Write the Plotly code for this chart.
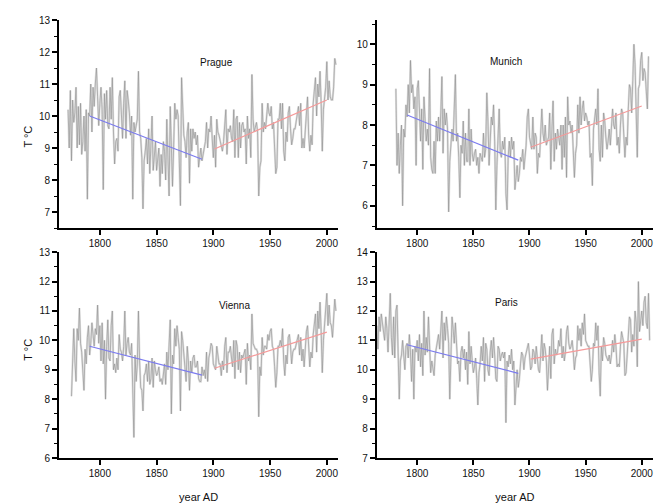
import plotly.graph_objects as go

# ---------------- data ----------------
prague_start = 1772
prague_temp = [
    10.2, 9.0, 10.8, 8.6, 10.5, 9.8, 10.1, 10.9,
    9.0, 10.3, 9.1, 10.4, 8.8, 9.2, 10.0, 8.9, 10.2, 7.4,
    10.1, 10.0, 11.0, 9.5, 10.9, 10.3, 11.0, 11.5, 10.6, 9.7,
    10.4, 10.9, 10.2, 7.7, 10.7, 9.9, 10.8, 9.7, 9.6, 10.9,
    9.9, 11.2, 9.5, 8.5, 9.2, 9.3, 8.9, 10.6, 10.8, 10.2,
    9.3, 10.4, 11.1, 9.3, 10.8, 10.5, 10.1, 9.4, 10.0, 7.4,
    9.8, 9.5, 9.7, 9.9, 11.4, 9.5, 9.3, 8.7, 7.1, 8.6,
    8.9, 9.3, 8.5, 9.6, 8.2, 9.1, 10.0, 8.3, 8.9, 9.2,
    8.3, 8.6, 9.0, 7.8, 8.8, 8.2, 9.2, 8.9, 8.0, 9.9,
    8.4, 7.5, 10.3, 9.2, 7.8, 9.0, 10.4, 9.9, 10.2, 10.0,
    8.3, 7.2, 11.2, 10.3, 9.4, 9.2, 8.7, 9.5, 9.8, 7.9,
    9.6, 8.9, 9.6, 9.3, 9.5, 9.1, 9.4, 8.4, 8.8, 9.0,
    8.6, 8.9, 9.0, 9.2, 9.8, 9.0, 9.6, 9.5, 10.0, 9.3,
    8.7, 9.4, 8.4, 9.9, 9.5, 9.4, 9.2, 9.0, 8.9, 9.2,
    9.8, 10.2, 8.8, 9.6, 9.5, 9.7, 9.3, 9.2, 10.2, 8.7,
    9.9, 10.0, 8.7, 9.8, 9.0, 9.7, 9.8, 9.5, 9.6, 8.5,
    10.0, 9.3, 9.6, 8.7, 11.3, 9.9, 9.5, 9.7, 9.8, 9.5,
    7.5, 8.4, 8.6, 10.4, 9.5, 9.8, 9.6, 10.0, 10.4, 10.1,
    10.0, 10.3, 9.6, 9.8, 8.9, 8.2, 8.4, 9.9, 9.9, 10.4,
    9.6, 10.4, 8.9, 8.6, 9.5, 9.2, 10.1, 10.3, 9.6, 9.1,
    9.3, 9.6, 9.6, 9.9, 10.0, 10.3, 9.7, 10.4, 9.0, 9.3,
    9.0, 9.6, 10.3, 10.6, 9.4, 8.9, 9.4, 9.1, 10.4, 11.0,
    11.2, 10.0, 11.0, 10.6, 11.4, 10.4, 8.9, 10.2, 10.5, 10.9,
    11.7, 10.5, 11.1, 10.6, 10.5, 10.5, 10.9, 11.8, 11.6,
]

munich_start = 1781
munich_temp = [
    8.9, 7.0, 7.8, 6.8, 7.5, 8.0, 6.0, 7.9, 7.7,
    8.5, 8.2, 9.0, 8.3, 9.6, 8.8, 9.0, 8.4, 8.7, 7.0,
    8.9, 9.1, 8.2, 7.6, 8.4, 6.9, 8.7, 8.0, 7.6, 7.9,
    7.5, 9.4, 7.2, 6.9, 6.8, 7.6, 6.8, 8.1, 7.6, 8.2,
    7.6, 8.3, 9.2, 7.3, 8.4, 8.0, 8.3, 7.9, 5.85, 7.1,
    7.6, 7.9, 7.6, 8.3, 9.25, 7.6, 7.8, 7.2, 6.2, 7.5,
    7.3, 8.1, 7.0, 7.8, 7.1, 7.1, 8.4, 7.0, 7.9, 7.3,
    7.1, 7.3, 7.4, 7.0, 7.2, 6.8, 7.3, 7.2, 7.1, 7.8,
    7.2, 7.4, 8.8, 8.1, 7.0, 7.6, 8.2, 8.0, 8.5, 7.6,
    5.9, 7.0, 7.8, 8.4, 7.3, 7.2, 7.6, 7.4, 7.7, 6.3,
    5.9, 7.2, 7.6, 7.2, 7.7, 7.4, 7.6, 6.4, 6.7, 7.0,
    6.6, 6.8, 7.2, 7.1, 7.4, 6.9, 7.2, 7.5, 8.2, 8.4,
    7.7, 7.5, 7.4, 8.2, 7.4, 7.8, 7.7, 6.8, 7.3, 7.2,
    8.0, 8.4, 7.8, 7.6, 8.0, 7.5, 7.6, 7.7, 8.3, 6.9,
    7.9, 8.6, 7.1, 7.8, 7.4, 7.9, 7.7, 7.5, 8.0, 6.9,
    8.0, 7.2, 8.2, 6.7, 8.7, 8.0, 8.1, 7.8, 8.0, 7.5,
    6.7, 7.3, 7.5, 8.5, 7.8, 8.7, 8.0, 8.4, 8.6, 8.1,
    8.3, 8.2, 8.0, 8.1, 7.2, 7.3, 6.5, 7.9, 8.2, 8.4,
    8.0, 8.9, 7.4, 7.1, 8.0, 7.2, 8.3, 8.1, 7.7, 7.4,
    7.6, 7.9, 7.5, 8.0, 8.4, 8.0, 7.9, 8.3, 7.5, 7.7,
    7.3, 8.0, 8.4, 8.3, 7.6, 7.2, 7.7, 7.5, 8.4, 9.0,
    8.9, 8.3, 9.1, 10.0, 9.5, 8.6, 7.2, 8.9, 9.0, 9.6,
    9.8, 9.1, 9.4, 9.3, 8.8, 8.4, 9.7,
]

vienna_start = 1775
vienna_temp = [
    8.1, 9.5, 10.4, 9.3, 8.6,
    10.4, 10.0, 11.1, 9.9, 9.6, 8.9, 8.3, 9.7, 9.2, 10.1,
    10.5, 9.5, 9.9, 10.6, 10.2, 9.8, 10.4, 10.2, 11.2, 9.9,
    10.5, 9.3, 10.6, 9.2, 10.0, 8.0, 9.8, 10.7, 9.4, 9.3,
    10.5, 11.0, 9.0, 9.2, 8.9, 9.4, 9.0, 10.2, 9.7, 9.6,
    9.3, 9.8, 11.0, 9.5, 9.9, 10.1, 9.6, 9.5, 9.9, 7.6,
    6.7, 9.5, 8.6, 9.2, 11.0, 9.3, 8.4, 8.3, 7.6, 8.8,
    8.9, 9.2, 8.6, 9.3, 8.5, 8.7, 9.4, 8.4, 9.3, 9.0,
    8.8, 8.9, 9.1, 8.6, 8.7, 8.5, 9.0, 9.2, 8.5, 9.6,
    9.0, 9.8, 10.7, 7.5, 9.5, 9.2, 10.4, 9.8, 10.5, 10.1,
    9.7, 7.6, 10.3, 10.0, 9.4, 9.1, 8.6, 9.8, 9.3, 8.3,
    9.3, 8.9, 9.4, 9.5, 9.1, 9.1, 9.3, 8.7, 8.6, 8.6,
    9.1, 8.8, 9.0, 8.7, 9.6, 8.6, 9.4, 9.6, 9.9, 9.8,
    9.2, 9.1, 9.0, 9.8, 9.4, 9.2, 9.2, 8.8, 9.3, 9.0,
    9.8, 10.1, 8.9, 9.6, 9.6, 9.8, 9.4, 9.1, 10.0, 8.7,
    10.0, 9.8, 9.0, 9.6, 8.9, 9.5, 9.4, 9.6, 9.7, 8.5,
    9.9, 9.3, 9.5, 9.0, 10.9, 9.9, 9.8, 9.7, 9.7, 9.6,
    7.4, 9.1, 8.8, 10.1, 9.5, 9.8, 9.8, 9.7, 10.2, 10.0,
    10.3, 10.4, 9.8, 9.7, 9.1, 8.4, 8.9, 9.8, 9.8, 10.0,
    9.8, 10.4, 9.3, 8.8, 9.5, 9.2, 10.1, 10.2, 9.8, 9.2,
    9.6, 9.7, 9.7, 9.9, 10.1, 10.2, 9.5, 10.1, 9.3, 9.7,
    9.1, 9.7, 10.3, 10.5, 9.5, 9.1, 9.6, 9.4, 10.2, 10.5,
    10.9, 9.6, 11.0, 10.4, 11.3, 10.3, 8.9, 10.0, 10.6, 10.9,
    11.6, 10.5, 11.2, 10.6, 10.5, 10.1, 10.8, 11.4, 11.0,
]

paris_start = 1764
paris_temp = [
    11.5, 10.7, 11.8, 11.3, 11.9, 11.6,
    11.2, 11.0, 11.8, 11.4, 10.6, 12.0, 12.6, 11.1, 10.5, 11.8,
    10.4, 12.0, 12.2, 10.6, 9.0, 10.3, 10.5, 11.0, 10.3, 10.0,
    10.8, 10.9, 10.4, 11.2, 10.6, 9.6, 10.7, 9.0, 10.8, 10.6,
    11.0, 10.3, 11.2, 10.1, 10.9, 9.8, 12.0, 10.5, 11.1, 10.6,
    11.8, 10.6, 9.9, 10.3, 10.0, 9.8, 10.5, 10.8, 11.0, 11.2,
    10.7, 11.5, 12.0, 10.4, 11.6, 11.0, 11.8, 11.4, 10.9, 9.0,
    11.0, 11.8, 11.4, 10.9, 11.6, 10.7, 10.2, 10.3, 9.6, 10.6,
    10.8, 10.4, 10.7, 10.0, 10.6, 9.5, 11.3, 10.2, 10.8, 10.3,
    9.9, 10.1, 10.4, 9.7, 8.8, 9.9, 10.2, 10.8, 10.3, 11.1,
    9.6, 10.9, 10.7, 10.0, 9.8, 10.6, 11.0, 10.4, 11.1, 10.5,
    9.7, 9.6, 10.8, 10.7, 10.3, 10.5, 10.6, 10.4, 10.6, 8.2,
    10.3, 10.1, 10.5, 10.2, 10.7, 10.0, 10.3, 8.8, 9.6, 10.0,
    9.4, 9.7, 10.2, 10.6, 10.5, 10.0, 10.4, 10.6, 10.8, 10.9,
    10.5, 10.0, 10.1, 10.7, 10.6, 10.2, 10.8, 10.4, 10.0, 9.9,
    10.5, 11.2, 10.3, 10.9, 10.7, 10.3, 9.3, 10.4, 10.8, 9.7,
    11.2, 11.4, 10.2, 10.7, 10.5, 10.6, 11.0, 10.8, 11.4, 10.4,
    10.8, 10.3, 10.6, 11.3, 11.5, 10.9, 10.7, 10.8, 11.0, 10.6,
    10.0, 10.4, 10.5, 11.5, 11.0, 11.4, 10.8, 11.6, 11.2, 11.9,
    11.0, 10.9, 10.8, 10.8, 10.2, 9.6, 10.0, 10.9, 10.8, 11.6,
    11.0, 11.5, 9.9, 9.1, 10.8, 10.3, 11.1, 10.9, 10.5, 10.4,
    10.3, 10.5, 10.2, 10.5, 11.0, 10.6, 11.2, 10.8, 10.1, 10.2,
    10.1, 10.8, 11.3, 11.1, 10.9, 9.8, 9.9, 10.5, 11.4, 11.8,
    11.7, 10.6, 11.2, 10.8, 12.0, 11.6, 10.1, 13.0, 11.3, 11.8,
    12.0, 11.5, 12.3, 12.5, 11.6, 11.4, 12.6, 11.0,
]

# linear trends (start/end values) for 1791-1890 (blue) and 1901-2000 (red)
early_years = [1791, 1890]
late_years = [1901, 2000]
prague_early = [10.0, 8.65]
prague_late = [8.97, 10.5]
munich_early = [8.25, 7.13]
munich_late = [7.45, 8.47]
vienna_early = [9.8, 8.82]
vienna_late = [9.05, 10.28]
paris_early = [10.85, 9.88]
paris_late = [10.36, 11.04]

cities = ["Prague", "Munich", "Vienna", "Paris"]
x_ticks = [1800, 1850, 1900, 1950, 2000]

# ---------------- figure ----------------
FONT = "Liberation Sans, Arial, sans-serif"
fig = go.Figure()

panels = [
    ("Prague", prague_start, prague_temp, prague_early, prague_late, "x", "y"),
    ("Munich", munich_start, munich_temp, munich_early, munich_late, "x2", "y2"),
    ("Vienna", vienna_start, vienna_temp, vienna_early, vienna_late, "x3", "y3"),
    ("Paris", paris_start, paris_temp, paris_early, paris_late, "x4", "y4"),
]

for name, start, temps, early, late, xa, ya in panels:
    years = list(range(start, start + len(temps)))
    fig.add_trace(go.Scatter(x=years, y=temps, mode="lines",
                             line=dict(color="#e0e0e0", width=2.2),
                             xaxis=xa, yaxis=ya, showlegend=False, hoverinfo="skip"))
    fig.add_trace(go.Scatter(x=years, y=temps, mode="lines",
                             line=dict(color="#8f8f8f", width=0.6),
                             xaxis=xa, yaxis=ya, showlegend=False))
    fig.add_trace(go.Scatter(x=early_years, y=early, mode="lines",
                             line=dict(color="#7b7bef", width=1.2),
                             xaxis=xa, yaxis=ya, showlegend=False))
    fig.add_trace(go.Scatter(x=late_years, y=late, mode="lines",
                             line=dict(color="#f59a9a", width=1.2),
                             xaxis=xa, yaxis=ya, showlegend=False))

tick_font = dict(family=FONT, size=10, color="#111")

def xaxis(domain, anchor, title=None):
    d = dict(domain=domain, anchor=anchor, range=[1764, 2010],
             tickvals=x_ticks, ticks="outside", ticklen=5, tickwidth=1.5,
             tickcolor="black", showline=True, linecolor="black", linewidth=2,
             showgrid=False, zeroline=False, tickfont=tick_font, automargin=False)
    if title:
        d["title"] = dict(text=title, font=dict(family=FONT, size=11, color="#111"),
                          standoff=15)
    return d

def yaxis(domain, anchor, rng, dtick):
    return dict(domain=domain, anchor=anchor, range=rng, dtick=dtick, tick0=0,
                ticks="outside", ticklen=5, tickwidth=1.5, tickcolor="black",
                showline=True, linecolor="black", linewidth=2,
                showgrid=False, zeroline=False, tickfont=tick_font, automargin=False,
                minor=dict(dtick=0.5, tick0=0, ticks="outside", ticklen=3,
                           tickwidth=1.2, tickcolor="black", showgrid=False))

xl = [0.0, 0.47]
xr = [0.535, 1.0]
yt = [0.525, 1.0]
yb = [0.0, 0.47]

fig.update_layout(
    width=657, height=503,
    margin=dict(l=59, r=4, t=20, b=45),
    paper_bgcolor="white", plot_bgcolor="white",
    xaxis=xaxis(xl, "y"),
    yaxis=yaxis(yt, "x", [6.5, 13], 1),
    xaxis2=xaxis(xr, "y2"),
    yaxis2=yaxis(yt, "x2", [5.45, 10.6], 1),
    xaxis3=xaxis(xl, "y3", "year AD"),
    yaxis3=yaxis(yb, "x3", [6, 13], 1),
    xaxis4=xaxis(xr, "y4", "year AD"),
    yaxis4=yaxis(yb, "x4", [7, 14], 1),
)

title_pos = [(0.234, 0.92), (0.783, 0.922), (0.266, 0.349), (0.776, 0.356)]
for name, (px, py) in zip(cities, title_pos):
    fig.add_annotation(x=px, y=py, xref="paper", yref="paper", text=name,
                       showarrow=False, font=dict(family=FONT, size=10, color="#111"))

for py in [0.763, 0.217]:
    fig.add_annotation(x=-0.066, y=py, xref="paper", yref="paper", text="T °C",
                       textangle=-90, showarrow=False,
                       font=dict(family=FONT, size=11, color="#111"))

fig.write_html("out.html", config={"displayModeBar": False},
               post_script="document.body.style.margin='0';")
